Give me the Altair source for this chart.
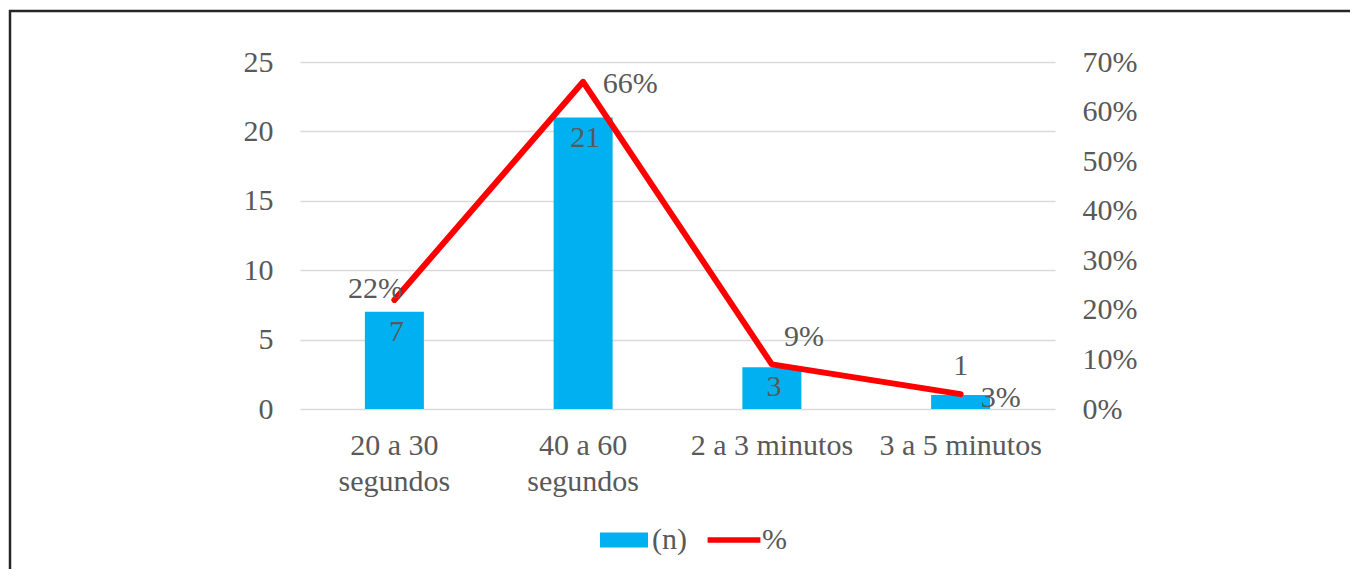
import altair as alt
import pandas as pd

categorias = ["20 a 30 segundos", "40 a 60 segundos", "2 a 3 minutos", "3 a 5 minutos"]
n_valores = [7, 21, 3, 1]
pct_valores = [0.22, 0.66, 0.09, 0.03]
series = ["(n)", "%"]
y_left_ticks = [0, 5, 10, 15, 20, 25]
y_right_ticks = [0, 0.1, 0.2, 0.3, 0.4, 0.5, 0.6, 0.7]

FONT = "Liberation Serif"
TXT = "#595959"
BLUE = "#00b0f0"
RED = "#ff0000"
FS = 30

df = pd.DataFrame({"cat": categorias, "n": n_valores, "pct": pct_valores})
df["n_lab"] = df["n"].astype(str)
df["pct_lab"] = (df["pct"] * 100).round().astype(int).astype(str) + "%"

x_enc = alt.X(
    "cat:N",
    sort=categorias,
    scale=alt.Scale(paddingInner=0, paddingOuter=0),
    axis=alt.Axis(
        title=None, labelAngle=0, domain=False, ticks=False, grid=False,
        labelFont=FONT, labelFontSize=FS, labelColor=TXT, labelPadding=21,
        labelLineHeight=36,
        labelExpr="indexof(datum.label, ' segundos') > 0 ? [substring(datum.label, 0, indexof(datum.label, ' segundos')), 'segundos'] : datum.label",
    ),
)

y_left = alt.Y(
    "n:Q",
    scale=alt.Scale(domain=[0, 25], nice=False),
    axis=alt.Axis(
        title=None, values=y_left_ticks, domain=False, ticks=False,
        grid=True, gridColor="#d9d9d9", gridWidth=1.5,
        labelFont=FONT, labelFontSize=FS, labelColor=TXT, labelPadding=27,
    ),
)

y_right = alt.Y(
    "pct:Q",
    scale=alt.Scale(domain=[0, 0.7], nice=False),
    axis=alt.Axis(
        title=None, orient="right", values=y_right_ticks, format=".0%",
        domain=False, ticks=False, grid=False,
        labelFont=FONT, labelFontSize=FS, labelColor=TXT, labelPadding=27,
    ),
)

base = alt.Chart(df)

frame_df = pd.DataFrame({"k": [0]})
frame = alt.Chart(frame_df).mark_rect(
    fill="white", fillOpacity=0, stroke="#262626", strokeWidth=2.5
).encode(
    x=alt.value(-290), x2=alt.value(1200), y=alt.value(-51), y2=alt.value(900)
)

bars = base.mark_bar(color=BLUE, size=59).encode(x=x_enc, y=y_left)

n_inside = base.transform_filter("datum.n >= 3").mark_text(
    font=FONT, fontSize=FS, color=TXT, baseline="middle", dy=20, dx=2
).encode(x=x_enc, y=y_left, text="n_lab:N")
n_above = base.transform_filter("datum.n < 3").mark_text(
    font=FONT, fontSize=FS, color=TXT, baseline="middle", dy=-29
).encode(x=x_enc, y=y_left, text="n_lab:N")

left = alt.layer(bars, n_inside, n_above)

line = base.mark_line(color=RED, strokeWidth=6, strokeCap="round", strokeJoin="round").encode(
    x=x_enc, y=y_right
)

def pct_label(cat, dx, dy):
    return base.transform_filter(alt.datum.cat == cat).mark_text(
        font=FONT, fontSize=FS, color=TXT, baseline="middle", align="center", dx=dx, dy=dy
    ).encode(x=x_enc, y=y_right, text="pct_lab:N")

pct_labels = [
    pct_label(categorias[0], -19, -11),
    pct_label(categorias[1], 47, 2),
    pct_label(categorias[2], 32, -27),
    pct_label(categorias[3], 40, 4),
]

leg_df = pd.DataFrame({"serie": series})
legend_layer = alt.Chart(leg_df).mark_point(filled=True, opacity=0).encode(
    color=alt.Color(
        "serie:N",
        scale=alt.Scale(domain=series, range=[BLUE, RED]),
        legend=alt.Legend(
            title=None, orient="none", direction="horizontal",
            legendX=300, legendY=454,
            labelFont=FONT, labelFontSize=FS, labelColor=TXT,
            symbolSize=2304, symbolOpacity=1, symbolStrokeWidth=0,
            labelOffset=4, columnPadding=20,
        ),
    ),
    shape=alt.Shape(
        "serie:N",
        scale=alt.Scale(
            domain=series,
            range=["M-1,-0.3125L1,-0.3125L1,0.3125L-1,0.3125Z",
                   "M-1.1,-0.11L1.1,-0.11L1.1,0.11L-1.1,0.11Z"],
        ),
        legend=None,
    ),
)

right = alt.layer(line, *pct_labels)

chart = alt.layer(frame, left, right, legend_layer).resolve_scale(y="independent").properties(
    width=755, height=347,
    autosize=alt.AutoSizeParams(type="none"),
    padding={"left": 292, "top": 54, "right": 295, "bottom": 160},
    background="white",
).configure_view(stroke=None)

chart.save("out.html", embed_options={"renderer": "svg", "actions": False})
